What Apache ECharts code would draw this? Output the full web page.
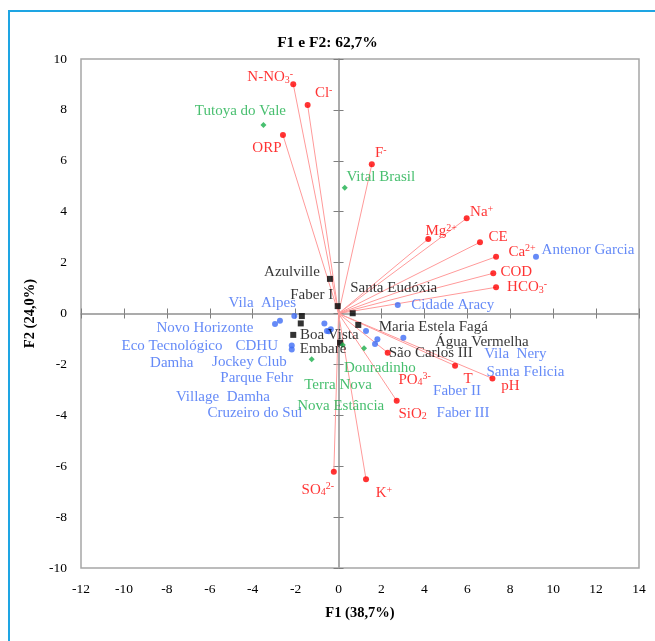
<!DOCTYPE html>
<html><head><meta charset="utf-8">
<script src="https://cdn.jsdelivr.net/npm/echarts@6/dist/echarts.min.js"></script>
<style>
html,body{margin:0;padding:0;background:#fff;}
#frame{position:absolute;left:8px;top:10px;width:800px;height:800px;border-left:2px solid #1ea5e3;border-top:2px solid #1ea5e3;}
#chart{position:absolute;left:0;top:0;width:655px;height:641px;}
</style></head><body>
<div id="frame"></div>
<div id="chart"></div>
<script>
// Variables (loadings)
const varLabels = ['N-NO{sb|3}{sp|-}','Cl{sp|-}','ORP','F{sp|-}','Mg{sp|2+}','Na{sp|+}','CE','Ca{sp|2+}','COD','HCO{sb|3}{sp|-}','PO{sb|4}{sp|3-}','T','pH','SiO{sb|2}','SO{sb|4}{sp|2-}','K{sp|+}'];
const varX = [-2.11,-1.44,-2.59,1.55,4.18,5.97,6.59,7.34,7.21,7.34,2.29,5.43,7.17,2.71,-0.22,1.28];
const varY = [9.01,8.19,7.01,5.86,2.93,3.74,2.80,2.23,1.58,1.03,-1.54,-2.05,-2.55,-3.43,-6.22,-6.51];
const varLabelOffsets = [[-23,-7],[16,-12],[-16,13],[9,-11],[13,-8],[15,-6],[18,-5],[26,-5],[23,-1],[31,0],[27,27],[13,13],[18,8],[16,13],[-16,18],[18,14]];

// Blue sites
const blueNames = ['Vila  Alpes','Novo Horizonte','Eco Tecnológico','CDHU','Damha','Jockey Club','Parque Fehr','Village  Damha','Cruzeiro do Sul','Vila  Nery','Santa Felicia','Faber II','Faber III','Cidade Aracy','Antenor Garcia'];
const blueX = [-2.06,-2.73,-2.96,-2.18,-2.18,-0.66,-0.36,-0.54,-0.45,3.02,1.81,1.70,1.28,2.76,9.20];
const blueY = [-0.10,-0.28,-0.41,-1.26,-1.41,-0.39,-0.62,-0.69,-0.70,-0.95,-1.01,-1.20,-0.69,0.33,2.23];
const blueLabelOffsets = [[-32,-13],[-75,7],[-103,22],[-35,0],[-120,14],[-75,39],[-74,49],[-104,66],[-74,82],[112,16],[148,33],[82,47],[97,82],[55,0],[52,-7]];

// Black sites
const blackNames = ['Azulville','Faber I','Santa Eudóxia','Maria Estela Fagá','Água Vermelha','São Carlos III','Boa Vista','Embare'];
const blackX = [-0.40,-0.04,0.66,0.92,-1.71,-1.76,-2.11,0.07];
const blackY = [1.36,0.29,0.01,-0.45,-0.10,-0.39,-0.84,-1.15];
const blackLabelOffsets = [[-38,-7],[-26,-11],[41,-25],[75,2],[180,26],[130,30],[36,0],[-17,6]];

// Green sites
const greenNames = ['Tutoya do Vale','Vital Brasil','Douradinho','Terra Nova','Nova Estância'];
const greenX = [-3.50,0.29,0.20,1.19,-1.25];
const greenY = [7.41,4.94,-1.24,-1.37,-1.80];
const greenLabelOffsets = [[-23,-14],[36,-11],[37,23],[-26,37],[29,47]];

const xTicks = {min:-12,max:14,interval:2};
const yTicks = {min:-10,max:10,interval:2};

const FONT = 'Liberation Serif';
const RED = '#ff0000', BLUE = '#3f6df5', GREEN = '#1aaf4b', BLACK = '#000000';

function pts(xs, ys, names, offs, color, rich) {
  return xs.map((x,i)=>({
    value:[x, ys[i]], name:names[i],
    label:{show:true, position:'inside', align:'center', verticalAlign:'middle', offset:offs[i],
      formatter:names[i], color:color, fontFamily:FONT, fontSize:15, rich: rich}
  }));
}
const richRed = {
  sb:{fontSize:10, color:RED, fontFamily:FONT, verticalAlign:'bottom', padding:[6,0,0,0]},
  sp:{fontSize:10, color:RED, fontFamily:FONT, verticalAlign:'top', padding:[0,0,6,0]}
};

const chart = echarts.init(document.getElementById('chart'), null, {renderer:'canvas'});
const axisGray = '#a6a6a6';
const option = {
  animation:false,
  title:{text:'F1 e F2: 62,7%', left:'center', top:30, textStyle:{fontFamily:FONT, fontWeight:'bold', fontSize:15.5, color:'#000'}},
  grid:{left:81, right:16, top:59, bottom:73, show:true, borderColor:axisGray, borderWidth:1.5, backgroundColor:'transparent'},
  xAxis:[
    {type:'value', min:xTicks.min, max:xTicks.max, interval:xTicks.interval, position:'bottom',
     axisLine:{show:false, onZero:false}, axisTick:{show:false}, splitLine:{show:false},
     axisLabel:{color:'#000', fontFamily:FONT, fontSize:13.5, margin:14},
     name:'F1 (38,7%)', nameLocation:'middle', nameGap:38,
     nameTextStyle:{fontFamily:FONT, fontWeight:'bold', fontSize:14.5, color:'#000'}},
    {type:'value', min:xTicks.min, max:xTicks.max, interval:xTicks.interval,
     axisLine:{show:true, onZero:true, lineStyle:{color:axisGray, width:1.5}},
     axisTick:{show:true, inside:true, length:5, lineStyle:{color:'#7f7f7f'}},
     axisLabel:{show:false}, splitLine:{show:false}},
    {type:'value', min:xTicks.min, max:xTicks.max, interval:xTicks.interval,
     axisLine:{show:true, onZero:true, lineStyle:{color:axisGray, width:1.5}},
     axisTick:{show:true, inside:false, length:5, lineStyle:{color:'#7f7f7f'}},
     axisLabel:{show:false}, splitLine:{show:false}}
  ],
  yAxis:[
    {type:'value', min:yTicks.min, max:yTicks.max, interval:yTicks.interval, position:'left',
     axisLine:{show:false, onZero:false}, axisTick:{show:false}, splitLine:{show:false},
     axisLabel:{color:'#000', fontFamily:FONT, fontSize:13.5, margin:14},
     name:'F2 (24,0%)', nameLocation:'middle', nameGap:38, nameRotate:90,
     nameTextStyle:{fontFamily:FONT, fontWeight:'bold', fontSize:14.5, color:'#000'}},
    {type:'value', min:yTicks.min, max:yTicks.max, interval:yTicks.interval,
     axisLine:{show:true, onZero:true, lineStyle:{color:axisGray, width:1.5}},
     axisTick:{show:true, inside:true, length:5, lineStyle:{color:'#7f7f7f'}},
     axisLabel:{show:false}, splitLine:{show:false}},
    {type:'value', min:yTicks.min, max:yTicks.max, interval:yTicks.interval,
     axisLine:{show:true, onZero:true, lineStyle:{color:axisGray, width:1.5}},
     axisTick:{show:true, inside:false, length:5, lineStyle:{color:'#7f7f7f'}},
     axisLabel:{show:false}, splitLine:{show:false}}
  ],
  series:[
    {type:'lines', coordinateSystem:'cartesian2d', xAxisIndex:0, yAxisIndex:0, z:3,
     lineStyle:{color:'#ff9a9a', width:1, opacity:1},
     data: varX.map((x,i)=>({coords:[[0,0],[x,varY[i]]]}))},
    {type:'scatter', xAxisIndex:0, yAxisIndex:0, z:5, symbol:'circle', symbolSize:6,
     itemStyle:{color:RED},
     data: pts(varX, varY, varLabels, varLabelOffsets, RED, richRed)},
    {type:'scatter', xAxisIndex:0, yAxisIndex:0, z:5, symbol:'circle', symbolSize:6,
     itemStyle:{color:BLUE},
     data: pts(blueX, blueY, blueNames, blueLabelOffsets, BLUE)},
    {type:'scatter', xAxisIndex:0, yAxisIndex:0, z:6, symbol:'rect', symbolSize:6,
     itemStyle:{color:BLACK},
     data: pts(blackX, blackY, blackNames, blackLabelOffsets, BLACK)},
    {type:'scatter', xAxisIndex:0, yAxisIndex:0, z:6, symbol:'diamond', symbolSize:6,
     itemStyle:{color:GREEN},
     data: pts(greenX, greenY, greenNames, greenLabelOffsets, GREEN)}
  ]
};
chart.setOption(option);
</script>
</body></html>
